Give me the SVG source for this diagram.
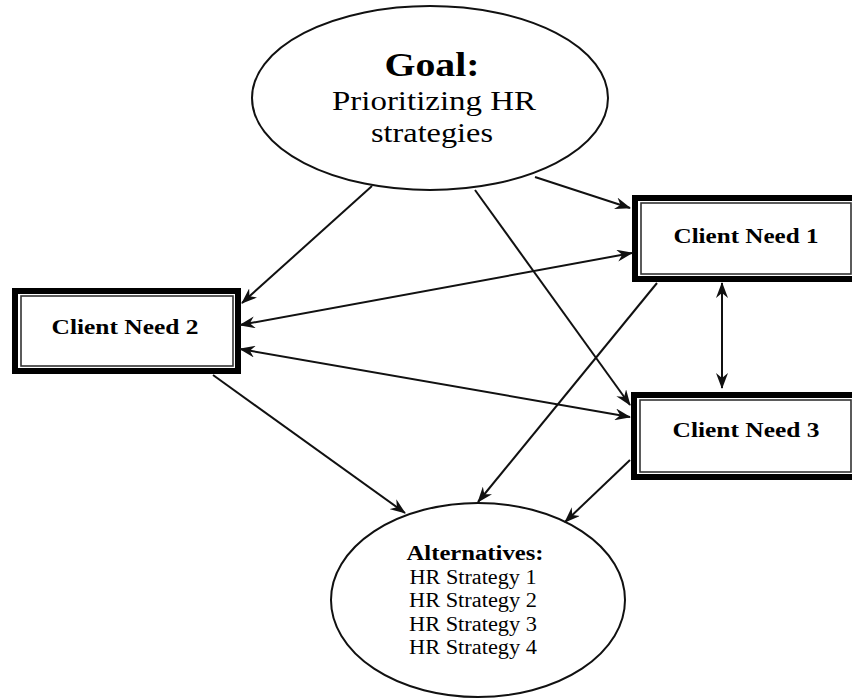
<svg xmlns="http://www.w3.org/2000/svg" width="852" height="700" viewBox="0 0 852 700">
<style>
.bg{fill:#fff}
.ell{fill:#fff;stroke:#111;stroke-width:2}
.outer{fill:#fff;stroke:#000;stroke-width:6}
.inner{fill:none;stroke:#333;stroke-width:1.6}
.t{font-family:"Liberation Serif","Times New Roman",serif;fill:#000;text-anchor:middle}
.b{font-weight:bold}
.edge{stroke:#111;stroke-width:2;fill:none;marker-end:url(#ah)}
.bi{marker-start:url(#ah)}
</style>
<defs>
<marker id="ah" markerUnits="userSpaceOnUse" markerWidth="16" markerHeight="12" refX="15" refY="6" orient="auto-start-reverse">
<path d="M0,0 L16,6 L0,12 L5,6 z" fill="#111"/>
</marker>
</defs>
<rect class="bg" x="0" y="0" width="852" height="700"/>
<g id="goal">
<ellipse class="ell" cx="430" cy="98" rx="178" ry="92"/>
<text class="t b" x="432" y="76" font-size="34" textLength="95" lengthAdjust="spacingAndGlyphs">Goal:</text>
<text class="t" x="434" y="110" font-size="28" textLength="204" lengthAdjust="spacingAndGlyphs">Prioritizing HR</text>
<text class="t" x="432" y="142" font-size="28" textLength="122" lengthAdjust="spacingAndGlyphs">strategies</text>
</g>
<g id="need1">
<rect class="outer" x="635" y="198" width="223" height="81"/>
<rect class="inner" x="641" y="203" width="210" height="71"/>
<text class="t b" x="746" y="243" font-size="22" textLength="145" lengthAdjust="spacingAndGlyphs">Client Need 1</text>
</g>
<g id="need2">
<rect class="outer" x="15" y="291" width="223" height="80"/>
<rect class="inner" x="21" y="296" width="212" height="70"/>
<text class="t b" x="125" y="334" font-size="22" textLength="147" lengthAdjust="spacingAndGlyphs">Client Need 2</text>
</g>
<g id="need3">
<rect class="outer" x="634" y="395" width="224" height="82"/>
<rect class="inner" x="640" y="400" width="211" height="72"/>
<text class="t b" x="746" y="437" font-size="22" textLength="147" lengthAdjust="spacingAndGlyphs">Client Need 3</text>
</g>
<g id="alternatives">
<ellipse class="ell" cx="478" cy="600" rx="147" ry="97"/>
<text class="t b" x="475" y="560" font-size="20" textLength="137" lengthAdjust="spacingAndGlyphs">Alternatives:</text>
<text class="t" x="473" y="584" font-size="20" textLength="127" lengthAdjust="spacingAndGlyphs">HR Strategy 1</text>
<text class="t" x="473" y="607" font-size="20" textLength="128" lengthAdjust="spacingAndGlyphs">HR Strategy 2</text>
<text class="t" x="473" y="631" font-size="20" textLength="128" lengthAdjust="spacingAndGlyphs">HR Strategy 3</text>
<text class="t" x="473" y="654" font-size="20" textLength="128" lengthAdjust="spacingAndGlyphs">HR Strategy 4</text>
</g>
<g id="connectors">
<line class="edge" x1="372" y1="186" x2="242" y2="303"/>
<line class="edge" x1="475" y1="190" x2="630" y2="405"/>
<line class="edge" x1="535" y1="177" x2="630" y2="208"/>
<line class="edge bi" x1="632" y1="253" x2="240" y2="325"/>
<line class="edge bi" x1="240" y1="349" x2="630" y2="417"/>
<line class="edge" x1="657" y1="283" x2="478" y2="502"/>
<line class="edge" x1="213" y1="375" x2="405" y2="513"/>
<line class="edge" x1="630" y1="460" x2="565" y2="522"/>
<line class="edge bi" x1="722" y1="283" x2="722" y2="388"/>
</g>
</svg>
